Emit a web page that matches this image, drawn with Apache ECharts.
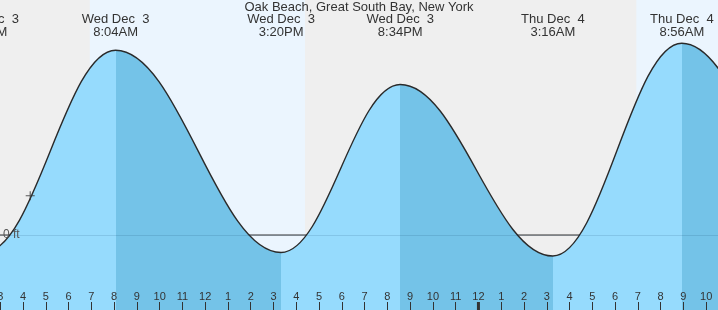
<!DOCTYPE html>
<html>
<head>
<meta charset="utf-8">
<title>Oak Beach, Great South Bay, New York</title>
<script src="https://cdn.jsdelivr.net/npm/echarts@6/dist/echarts.min.js"></script>
<style>
html, body { margin: 0; padding: 0; background: #efefef; }
#chart { width: 718px; height: 310px; }
</style>
</head>
<body>
<div id="chart"></div>
<script>
// high / low tides: minutes after Wed Dec 3 00:00, height in ft
// (the first two and last two are outside the visible window, estimated)
const extremeMinutes = [-255, 140, 484, 920, 1234, 1636, 1976, 2390, 2720];
const extremeFeet = [2.20, -0.24, 2.64, -0.25, 2.15, -0.30, 2.74, -0.20, 2.20];
const extremeDays = ['Tue Dec  2', 'Wed Dec  3', 'Wed Dec  3', 'Wed Dec  3', 'Wed Dec  3', 'Thu Dec  4', 'Thu Dec  4', 'Thu Dec  4', 'Thu Dec  4'];
const extremeClock = ['7:45PM', '2:20AM', '8:04AM', '3:20PM', '8:34PM', '3:16AM', '8:56AM', '3:50PM', '9:20PM'];

// daylight (minutes)
const dayStart = [416, 1856];
const dayEnd = [983, 2423];
const midnights = [1440];

// current time marker
const nowMinutes = 259;
const nowFeet = 0.56;

// visible window
const viewStart = 179.4;
const viewEnd = 2071.2;
const feetMin = -1.0714;
const feetMax = 3.3571;

const base = new Date(2025, 11, 3).getTime();
const toMs = m => base + m * 60000;

const tideData = extremeMinutes.map((m, i) => [toMs(m), extremeFeet[i]]);

// falling tide (high -> next low) is drawn darker
const fallingPieces = [];
extremeMinutes.forEach((m, i) => {
  const next = extremeMinutes[i + 1];
  if (extremeFeet[i] > 1 && next !== undefined) {
    fallingPieces.push({ gte: toMs(m), lt: toMs(next), color: '#74c3e8' });
  }
});

const FONT = 'Liberation Sans, Arial, sans-serif';

const chart = echarts.init(document.getElementById('chart'));

const option = {
  animation: false,
  backgroundColor: '#efefef',
  title: {
    text: 'Oak Beach, Great South Bay, New York',
    left: 'center',
    top: 0,
    padding: 0,
    textStyle: { fontSize: 13, fontWeight: 'normal', color: '#333', fontFamily: FONT, lineHeight: 14 }
  },
  grid: { left: 0, right: 0, top: 0, bottom: 0, outerBoundsMode: 'none', containLabel: false },
  xAxis: {
    type: 'time',
    min: toMs(viewStart),
    max: toMs(viewEnd),
    minInterval: 3600000,
    maxInterval: 3600000,
    axisLine: { show: false, onZero: false },
    axisTick: { show: true, inside: true, length: 8, lineStyle: { color: '#333' } },
    axisLabel: {
      inside: true,
      margin: 8,
      color: '#333',
      fontSize: 11,
      fontFamily: FONT,
      interval: 0,
      hideOverlap: false,
      formatter: v => {
        const d = new Date(v);
        if (d.getMinutes() !== 0) return '';
        return String(d.getHours() % 12 || 12);
      }
    },
    splitLine: { show: false },
    z: 6
  },
  yAxis: {
    type: 'value',
    min: feetMin,
    max: feetMax,
    axisLine: { show: false },
    axisTick: { show: false },
    splitLine: { show: false },
    axisLabel: {
      inside: true,
      margin: 3,
      color: '#555',
      fontSize: 12,
      fontFamily: FONT,
      showMinLabel: false,
      showMaxLabel: false,
      formatter: v => (v === 0 ? '0 ft' : '')
    },
    z: 6
  },
  visualMap: {
    show: false,
    type: 'piecewise',
    seriesIndex: 2,
    dimension: 0,
    pieces: fallingPieces,
    outOfRange: { color: '#96dbfd' }
  },
  series: [
    {
      // daylight bands
      type: 'custom',
      z: 0,
      silent: true,
      data: dayStart.map((s, i) => [toMs(s), toMs(dayEnd[i])]),
      encode: { x: [0, 1] },
      renderItem: (params, api) => {
        const x0 = api.coord([api.value(0), 0])[0];
        const x1 = api.coord([api.value(1), 0])[0];
        return {
          type: 'rect',
          shape: { x: x0, y: params.coordSys.y, width: x1 - x0, height: params.coordSys.height },
          style: { fill: '#ebf5fe' }
        };
      }
    },
    {
      // zero line, visible where the water is below 0 ft
      type: 'line',
      z: 1,
      silent: true,
      showSymbol: false,
      data: [[toMs(viewStart), 0], [toMs(viewEnd), 0]],
      lineStyle: { color: '#333', width: 1.2 }
    },
    {
      type: 'line',
      z: 2,
      silent: true,
      showSymbol: false,
      smooth: 0.38,
      smoothMonotone: 'x',
      data: tideData,
      lineStyle: { color: '#2a2a2a', width: 1.4 },
      areaStyle: { origin: 'start', opacity: 1 },
      markLine: {
        silent: true,
        symbol: 'none',
        label: { show: false },
        lineStyle: { color: 'rgba(0,40,80,0.12)', width: 1, type: 'solid' },
        data: [{ yAxis: 0 }]
      }
    },
    {
      type: 'scatter',
      z: 4,
      silent: true,
      symbol: 'path://M4.4,0h1.2v4.4h4.4v1.2h-4.4v4.4h-1.2v-4.4h-4.4v-1.2h4.4z',
      symbolSize: 9,
      itemStyle: { color: '#333' },
      data: [[toMs(nowMinutes), nowFeet]]
    },
    {
      // high / low labels along the top
      type: 'custom',
      z: 5,
      silent: true,
      data: extremeMinutes.map((m, i) => [toMs(m), extremeFeet[i]]),
      renderItem: (params, api) => {
        const x = api.coord([api.value(0), 0])[0];
        const i = params.dataIndex;
        const top = params.coordSys.y;
        return {
          type: 'group',
          children: [
            { type: 'text', x: x, y: top + 19.5, style: { text: extremeDays[i], fill: '#333', font: '13px ' + FONT, align: 'center', verticalAlign: 'middle' } },
            { type: 'text', x: x, y: top + 32, style: { text: extremeClock[i], fill: '#333', font: '13px ' + FONT, align: 'center', verticalAlign: 'middle' } }
          ]
        };
      }
    },
    {
      // thicker tick at midnight
      type: 'custom',
      z: 6,
      silent: true,
      data: midnights.map(m => [toMs(m), 0]),
      renderItem: (params, api) => {
        const x = api.coord([api.value(0), 0])[0];
        const bottom = params.coordSys.y + params.coordSys.height;
        return {
          type: 'rect',
          shape: { x: x - 1.5, y: bottom - 8, width: 3, height: 8 },
          style: { fill: '#333' }
        };
      }
    }
  ]
};

chart.setOption(option);
</script>
</body>
</html>
